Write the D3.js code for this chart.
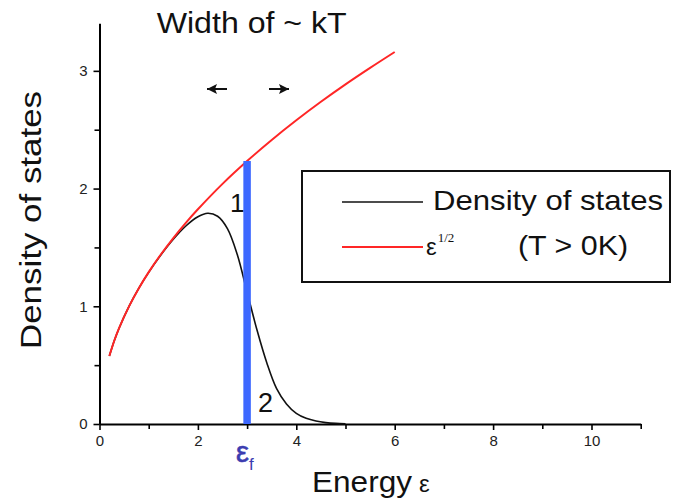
<!DOCTYPE html>
<html>
<head>
<meta charset="utf-8">
<script src="https://cdn.jsdelivr.net/npm/d3@7"></script>
<style>
  html, body { margin: 0; padding: 0; background: #fff; }
  svg { display: block; font-family: "Liberation Sans", Arial, sans-serif; }
</style>
</head>
<body>
<svg id="chart" width="673" height="502"></svg>
<script>
// Density of states g(ε) times the Fermi occupation at T > 0 (black)
const dosEnergy = [0.2, 0.3, 0.4, 0.6, 0.8, 1.0, 1.25, 1.5, 1.75, 2.0, 2.2, 2.4, 2.6, 2.8,
                   3.0, 3.2, 3.4, 3.6, 3.8, 4.0, 4.2, 4.4, 4.6, 4.8, 5.0];
const dosValues = [0.577, 0.707, 0.816, 0.999, 1.154, 1.288, 1.437, 1.569, 1.68, 1.76, 1.79, 1.765, 1.66, 1.44,
                   1.12, 0.80, 0.52, 0.30, 0.17, 0.09, 0.048, 0.025, 0.012, 0.005, 0.002];

// Free-electron envelope ε^(1/2) (red)
const sqrtEnergy = [0.2, 0.3, 0.4, 0.6, 0.8, 1.0, 1.25, 1.5, 1.75, 2.0, 2.5, 3.0, 3.5, 4.0, 4.5, 5.0, 5.5, 6.0];
const sqrtValues = [0.577, 0.707, 0.816, 0.999, 1.154, 1.29, 1.442, 1.58, 1.707, 1.824, 2.04, 2.234, 2.413, 2.58,
                    2.737, 2.885, 3.025, 3.16];

// Fermi energy and the envelope height there
const fermiEnergy = 3;
const fermiTop = 2.234;

// Axis ticks
const xMajorTicks = [0, 2, 4, 6, 8, 10];
const xMinorTicks = [1, 3, 5, 7, 9, 11];
const yMajorTicks = [0, 1, 2, 3];
const yMinorTicks = [0.5, 1.5, 2.5];

const svg = d3.select("#chart");

const x = d3.scaleLinear().domain([0, 11]).range([99.5, 640.7]);
const y = d3.scaleLinear().domain([0, 3.404]).range([424, 23.3]);

// ---- axes ----
const xAxis = svg.append("g").attr("transform", `translate(0,${y(0)})`);
xAxis.call(d3.axisBottom(x).tickValues(xMajorTicks).tickSize(6).tickPadding(5).tickSizeOuter(0)
  .tickFormat(d3.format("d")));
xAxis.append("g").call(d3.axisBottom(x).tickValues(xMinorTicks).tickSize(5).tickFormat("").tickSizeOuter(0))
  .select(".domain").remove();

const yAxis = svg.append("g").attr("transform", `translate(${x(0)},0)`);
yAxis.call(d3.axisLeft(y).tickValues(yMajorTicks).tickSize(6).tickPadding(6).tickSizeOuter(0)
  .tickFormat(d3.format("d")));
yAxis.append("g").call(d3.axisLeft(y).tickValues(yMinorTicks).tickSize(5).tickFormat("").tickSizeOuter(0))
  .select(".domain").remove();

svg.selectAll(".domain").attr("stroke", "#000").attr("stroke-width", 2);
svg.selectAll(".tick line").attr("stroke", "#000").attr("stroke-width", 1.6);
svg.selectAll(".tick text").attr("fill", "#222").attr("font-size", 15)
  .attr("font-family", "'Liberation Sans', Arial, sans-serif");

// ---- curves ----
const line = d3.line().curve(d3.curveCatmullRom.alpha(0.5));

svg.append("path")
  .attr("d", line(dosEnergy.map((e, i) => [x(e), y(dosValues[i])])))
  .attr("fill", "none").attr("stroke", "#111").attr("stroke-width", 1.6);

svg.append("path")
  .attr("d", line(sqrtEnergy.map((e, i) => [x(e), y(sqrtValues[i])])))
  .attr("fill", "none").attr("stroke", "#ff2626").attr("stroke-width", 2);

// Fermi level marker
svg.append("line")
  .attr("x1", x(fermiEnergy)).attr("x2", x(fermiEnergy))
  .attr("y1", y(fermiTop)).attr("y2", y(0))
  .attr("stroke", "#3d68ff").attr("stroke-width", 7.5);

// ---- annotations ----
svg.append("text").attr("x", 156.7).attr("y", 33).attr("font-size", 30)
  .attr("textLength", 190).attr("lengthAdjust", "spacingAndGlyphs")
  .attr("fill", "#111").text("Width of ~ kT");

// kT arrows
const arrowHead = (tipX, dir) => {
  const yy = 89;
  svg.append("line").attr("x1", tipX).attr("x2", tipX - dir * 20).attr("y1", yy).attr("y2", yy)
    .attr("stroke", "#111").attr("stroke-width", 2);
  svg.append("path")
    .attr("d", `M${tipX},${yy} L${tipX - dir * 10},${yy - 5} L${tipX - dir * 8},${yy} L${tipX - dir * 10},${yy + 5} Z`)
    .attr("fill", "#111");
};
arrowHead(207, -1);
arrowHead(289, 1);

svg.append("text").attr("x", 230).attr("y", 212).attr("font-size", 26).attr("fill", "#111").text("1");
svg.append("text").attr("x", 258).attr("y", 412).attr("font-size", 27).attr("fill", "#111").text("2");

// ε_f label under the marker
const ef = svg.append("text").attr("x", 236).attr("y", 462).attr("fill", "#3c3cb0")
  .attr("stroke", "#3c3cb0").attr("stroke-width", 0.6);
ef.append("tspan").attr("font-size", 29).text("ε");
ef.append("tspan").attr("font-size", 17).attr("dy", 8).attr("stroke-width", 0).text("f");

// axis titles
const xt = svg.append("text").attr("x", 312).attr("y", 492).attr("fill", "#111");
xt.append("tspan").attr("font-size", 29).attr("textLength", 100).attr("lengthAdjust", "spacingAndGlyphs").text("Energy");
xt.append("tspan").attr("font-size", 24).attr("dx", 7).text("ε");

svg.append("text")
  .attr("transform", "translate(41,349) rotate(-90)")
  .attr("font-size", 30).attr("textLength", 258).attr("lengthAdjust", "spacingAndGlyphs")
  .attr("fill", "#111").text("Density of states");

// ---- legend ----
const legend = svg.append("g");
legend.append("rect").attr("x", 302).attr("y", 171).attr("width", 368).attr("height", 111)
  .attr("fill", "#fff").attr("stroke", "#111").attr("stroke-width", 2);
legend.append("line").attr("x1", 342).attr("x2", 423).attr("y1", 202).attr("y2", 202)
  .attr("stroke", "#111").attr("stroke-width", 1.6);
legend.append("line").attr("x1", 342).attr("x2", 423).attr("y1", 247).attr("y2", 247)
  .attr("stroke", "#ff2626").attr("stroke-width", 2);
legend.append("text").attr("x", 433).attr("y", 210).attr("font-size", 28)
  .attr("textLength", 230).attr("lengthAdjust", "spacingAndGlyphs")
  .attr("fill", "#111").text("Density of states");
const sq = legend.append("text").attr("x", 426).attr("y", 255).attr("fill", "#111");
sq.append("tspan").attr("font-size", 24).text("ε");
sq.append("tspan").attr("font-size", 13).attr("dy", -13).attr("dx", 1)
  .attr("font-family", "'Liberation Serif', 'Times New Roman', serif").text("1/2");
legend.append("text").attr("x", 518).attr("y", 255).attr("font-size", 28)
  .attr("textLength", 110).attr("lengthAdjust", "spacingAndGlyphs")
  .attr("fill", "#111").text("(T > 0K)");
</script>
</body>
</html>
